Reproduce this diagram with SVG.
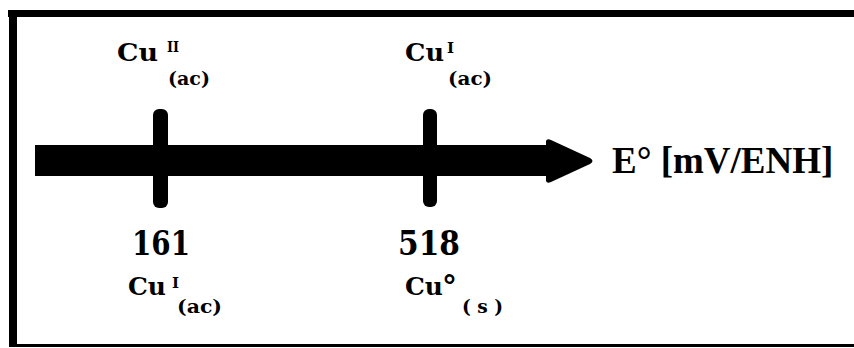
<svg xmlns="http://www.w3.org/2000/svg" width="854" height="348" viewBox="0 0 854 348">
<style>
text{font-family:"DejaVu Serif","Liberation Serif",serif;font-weight:bold;fill:#000}
.cu{font-size:24px}
.sup{font-size:15px}
.sub{font-size:19px}
.big{font-size:34px}
.axis{font-family:"Liberation Serif","Times New Roman",serif;font-size:37px}
</style>
<rect x="0" y="0" width="854" height="348" fill="#fff"/>
<g id="frame" fill="#000">
<rect x="8" y="10" width="846" height="7"/>
<rect x="9" y="10" width="8" height="337"/>
<rect x="9" y="344" width="845" height="3"/>
</g>
<g id="connectors" fill="#000">
<rect x="35" y="145" width="514" height="31"/>
<path d="M546,141 Q547,138 551,140 L590,158 Q595,161 590,164 L551,182 Q547,184 546,181 Z"/>
</g>
<g id="tick161" fill="#000">
<rect x="153" y="109" width="15" height="99" rx="6"/>
</g>
<g id="tick518" fill="#000">
<rect x="423" y="109" width="14" height="98" rx="6"/>
</g>
<g id="label-cu2">
<text class="cu" x="117" y="61" textLength="41" lengthAdjust="spacingAndGlyphs">Cu</text>
<text class="sup" x="167" y="52" textLength="12" lengthAdjust="spacingAndGlyphs">II</text>
<text class="sub" x="168" y="85" textLength="42" lengthAdjust="spacingAndGlyphs">(ac)</text>
</g>
<g id="label-cu1-top">
<text class="cu" x="405" y="61" textLength="39" lengthAdjust="spacingAndGlyphs">Cu</text>
<text class="sup" x="447" y="53">I</text>
<text class="sub" x="448" y="85" textLength="44" lengthAdjust="spacingAndGlyphs">(ac)</text>
</g>
<g id="value161">
<text class="big" x="132" y="255" textLength="58" lengthAdjust="spacingAndGlyphs">161</text>
</g>
<g id="value518">
<text class="big" x="398" y="255" textLength="62" lengthAdjust="spacingAndGlyphs">518</text>
</g>
<g id="label-cu1-bottom">
<text class="cu" x="128" y="295" textLength="38" lengthAdjust="spacingAndGlyphs">Cu</text>
<text class="sup" x="172" y="288">I</text>
<text class="sub" x="177" y="313" textLength="45" lengthAdjust="spacingAndGlyphs">(ac)</text>
</g>
<g id="label-cu0">
<text class="cu" x="405" y="295" textLength="38" lengthAdjust="spacingAndGlyphs">Cu</text>
<text style="font-size:30px" x="442" y="297">°</text>
<text class="sub" x="462" y="313" textLength="41" lengthAdjust="spacingAndGlyphs">( s )</text>
</g>
<g id="axis-label">
<text class="axis" x="612" y="173">E° [mV/ENH]</text>
</g>
</svg>
